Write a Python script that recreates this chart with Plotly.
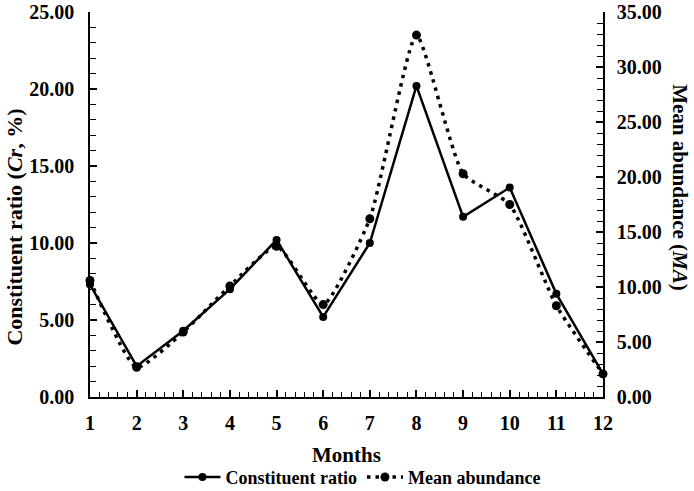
import plotly.graph_objects as go

months = [1, 2, 3, 4, 5, 6, 7, 8, 9, 10, 11, 12]
constituent_ratio = [7.3, 2.0, 4.3, 7.0, 10.2, 5.2, 10.0, 20.2, 11.7, 13.6, 6.7, 1.5]
mean_abundance = [10.6, 2.7, 5.9, 10.1, 13.7, 8.4, 16.2, 32.9, 20.3, 17.5, 8.3, 2.1]
left_ticks = [0, 5, 10, 15, 20, 25]
right_ticks = [0, 5, 10, 15, 20, 25, 30, 35]

FONT = "Liberation Serif"

fig = go.Figure()
fig.add_trace(go.Scatter(
    x=months, y=constituent_ratio, name="Constituent ratio",
    mode="lines+markers",
    line=dict(color="black", width=2.5),
    marker=dict(color="black", size=8),
    cliponaxis=False,
))
fig.add_trace(go.Scatter(
    x=months, y=mean_abundance, name="Mean abundance",
    mode="lines+markers", yaxis="y2",
    line=dict(color="black", width=3.5, dash="3.5px,5px", shape="spline", smoothing=0.5),
    marker=dict(color="black", size=9),
    cliponaxis=False,
))

tickfont = dict(family=FONT, size=20, color="black", weight="bold")
axis_common = dict(
    showline=True, linecolor="black", linewidth=1.5,
    ticks="inside", ticklen=7, tickwidth=1.5, tickcolor="black",
    showgrid=False, zeroline=False, tickfont=tickfont, automargin=False,
    ticklabeloverflow="allow",
)

fig.update_layout(
    width=694, height=491,
    paper_bgcolor="white", plot_bgcolor="white",
    margin=dict(l=90, r=91, t=12, b=94, autoexpand=False),
    font=dict(family=FONT, color="black"),
    showlegend=True,
    legend=dict(
        orientation="h", xref="container", yref="container",
        x=0.523, xanchor="center", y=0.028, yanchor="middle",
        font=dict(family=FONT, size=18, color="black", weight="bold"),
        itemwidth=36, tracegroupgap=0,
    ),
    xaxis=dict(
        range=[1, 12], tickvals=months, ticktext=[str(m) for m in months],
        minor=dict(dtick=0.2, tick0=1, ticks="inside", ticklen=5, tickwidth=1.2, tickcolor="black"),
        ticklabelstandoff=7,
        **axis_common,
    ),
    yaxis=dict(
        range=[0, 25], tickvals=left_ticks, tickformat=".2f",
        minor=dict(dtick=1, tick0=0, ticks="inside", ticklen=6, tickwidth=1.2, tickcolor="black"),
        ticklabelstandoff=10,
        **axis_common,
    ),
    yaxis2=dict(
        range=[0, 35], tickvals=right_ticks, tickformat=".2f",
        overlaying="y", side="right", anchor="x",
        minor=dict(dtick=1, tick0=0, ticks="inside", ticklen=6, tickwidth=1.2, tickcolor="black"),
        ticklabelstandoff=8,
        **axis_common,
    ),
    annotations=[
        dict(text="Constituent ratio (<i>Cr</i>, %)", xref="paper", yref="paper",
             x=0, y=0.44, xshift=-75, xanchor="center", yanchor="middle",
             textangle=-90, showarrow=False,
             font=dict(family=FONT, size=22, color="black", weight="bold")),
        dict(text="Mean abundance (<i>MA</i>)", xref="paper", yref="paper",
             x=1, y=0.545, xshift=77, xanchor="center", yanchor="middle",
             textangle=90, showarrow=False,
             font=dict(family=FONT, size=21, color="black", weight="bold")),
        dict(text="Months", xref="paper", yref="paper",
             x=0.5, y=0, yshift=-58, xanchor="center", yanchor="middle",
             showarrow=False,
             font=dict(family=FONT, size=21, color="black", weight="bold")),
    ],
)

# remove the browser's default 8px body margin so the figure fills the window
fig.write_html(
    "out.html",
    config={"displayModeBar": False},
    post_script="document.body.style.margin='0';document.body.style.overflow='hidden';",
)
